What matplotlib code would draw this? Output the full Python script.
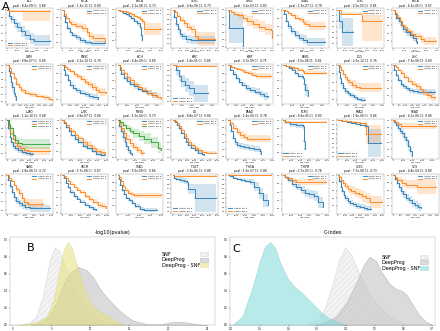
import numpy as np
import matplotlib
matplotlib.use("Agg")
import matplotlib.pyplot as plt

# ---- panel A : Kaplan-Meier curves, one per cancer ----
cancers = ["ACC", "BLCA", "BRCA", "CESC", "CHOL", "COAD", "DLBC", "ESCA",
           "GBM", "HNSC", "KICH", "KIRC", "KIRP", "LAML", "LGG", "LIHC",
           "LUAD", "LUSC", "MESO", "OV", "PAAD", "PCPG", "PRAD", "READ",
           "SARC", "SKCM", "STAD", "TGCT", "THCA", "THYM", "UCEC", "UCS"]
pvals = [8.4e-09, 1.3e-11, 2.1e-08, 4.6e-06, 3.2e-03, 1.7e-07, 2.5e-03, 6.1e-05,
         9.8e-07, 2.2e-10, 4.4e-09, 1.8e-05, 3.7e-09, 5.5e-06, 2.0e-12, 7.3e-08,
         1.1e-10, 3.6e-07, 5.2e-04, 8.8e-07, 2.4e-06, 6.6e-05, 1.9e-06, 4.1e-06,
         2.8e-06, 5.7e-08, 9.2e-09, 3.3e-06, 1.6e-07, 2.7e-05, 7.7e-08, 4.8e-04]
cindex = [0.89, 0.69, 0.73, 0.73, 0.83, 0.79, 0.85, 0.67,
          0.69, 0.70, 0.69, 0.86, 0.75, 0.82, 0.76, 0.69,
          0.68, 0.66, 0.73, 0.66, 0.78, 0.90, 0.84, 0.86,
          0.72, 0.67, 0.66, 0.88, 0.88, 0.78, 0.73, 0.80]
t_max = [4500, 5000, 8000, 6000, 3000, 4500, 6000, 4000,
         3500, 6000, 4500, 4500, 5500, 4500, 5000, 3500,
         6000, 5000, 2500, 6000, 2500, 5000, 5000, 4500,
         5000, 10000, 4000, 6000, 5000, 5000, 6000, 3000]

# cluster 0 (blue): times, survival, half width of the confidence band
blue_t = [
    [0, 200, 400, 700, 1000, 1400, 1800, 2300, 2700, 4300],
    [0, 150, 300, 500, 800, 1100, 1500, 2000, 2600, 3200, 4800],
    [0, 500, 1000, 1500, 2000, 2500, 3000, 3500, 4000, 4300, 4500],
    [0, 200, 400, 700, 1000, 1300, 1800, 2500, 5800],
    [0, 100, 1000, 1050],
    [0, 100, 300, 500, 800, 1200, 1600, 2000, 2500, 4300],
    [0, 200, 600, 1200, 2100],
    [0, 150, 300, 500, 700, 900, 1200, 1500, 1800, 2100, 2200],
    [0, 100, 200, 300, 400, 500, 600, 700],
    [0, 200, 400, 700, 1000, 1400, 1800, 2400, 3000, 3600, 4200, 4800],
    [0, 200, 400, 700, 1000, 1300, 1700, 2100, 2500, 3000, 3500, 4000],
    [0, 300, 600, 900, 1300, 1700, 2200, 3600],
    [0, 300, 600, 1000, 1400, 1800, 2300, 2800, 3400, 4000, 4500, 5000],
    [0, 300, 600, 900, 1200, 1500, 2000, 2100, 2300, 2600],
    [0, 100, 250, 400, 600, 800, 1100, 1400, 1800, 2200, 2600, 3000],
    [0, 100, 250, 400, 600, 800, 1000, 1300, 1600, 2000, 2500, 3000, 3300],
    [0, 100, 300, 500, 800, 1100, 1500, 2000, 2500, 3000, 3500],
    [0, 200, 400, 700, 1000, 1400, 1800, 2300, 2800, 3300, 3800, 4300, 4800],
    [0, 100, 200, 300, 400, 500, 600, 700, 800],
    [0, 300, 600, 900, 1200, 1500, 1800, 2100, 2500, 3000, 3500, 4000, 4200],
    [0, 100, 200, 300, 400, 500, 700, 900, 1200, 1500, 1800, 1900],
    [0, 300, 800, 1500, 2300, 2350, 2500],
    [0, 500, 1000, 1500, 2000, 2500, 3000, 3400, 4900],
    [0, 100, 300, 500, 700, 900, 1100, 1300, 1500, 1700, 1900],
    [0, 100, 300, 500, 700, 1000, 1300, 1600, 2000, 2500, 3000, 4800],
    [0, 300, 700, 1200, 1800, 2500, 3200, 4000, 5000, 6000, 7000, 7500],
    [0, 100, 250, 400, 600, 800, 1000, 1300, 1600, 2000, 2400, 3600],
    [0, 200, 500, 1000, 1500, 2000, 2100, 3000, 5900],
    [0, 300, 600, 1000, 1500, 2000, 2500, 3000, 3500, 4000, 4500],
    [0, 300, 600, 1000, 1500, 2000, 2500, 3000, 3500, 4000, 4500],
    [0, 200, 400, 600, 800, 1000, 1300, 1600, 2000, 2500, 3000, 3500, 4000, 4500],
    [0, 100, 250, 400, 550, 700, 900, 1100, 1300, 1500, 1700, 1900],
]
blue_s = [
    [1, .85, .75, .65, .55, .45, .35, .25, .2, .2],
    [1, .85, .7, .55, .45, .38, .32, .25, .2, .17, .17],
    [1, .96, .92, .88, .83, .78, .72, .65, .55, .35, .2],
    [1, .85, .7, .6, .5, .45, .4, .38, .38],
    [1, .5, .5, .02],
    [1, .9, .75, .62, .5, .42, .35, .3, .25, .25],
    [1, .8, .6, .6, .6],
    [1, .9, .8, .7, .6, .5, .42, .35, .28, .2, .15],
    [1, .85, .7, .55, .4, .25, .15, .05],
    [1, .9, .78, .65, .55, .48, .42, .36, .32, .28, .25, .22],
    [1, .88, .78, .68, .6, .52, .46, .4, .35, .3, .25, .22],
    [1, .9, .8, .7, .62, .55, .45, .45],
    [1, .9, .8, .7, .62, .55, .48, .42, .38, .33, .28, .25],
    [1, .97, .93, .88, .8, .72, .68, .5, .35, .2],
    [1, .85, .7, .58, .48, .4, .35, .3, .25, .22, .2, .2],
    [1, .88, .75, .62, .52, .45, .4, .35, .32, .3, .3, .3, .3],
    [1, .8, .6, .48, .38, .32, .27, .22, .2, .18, .18],
    [1, .92, .82, .72, .62, .52, .45, .35, .28, .22, .15, .12, .12],
    [1, .85, .7, .55, .4, .3, .2, .12, .05],
    [1, .95, .88, .78, .65, .52, .42, .33, .25, .18, .12, .08, .05],
    [1, .88, .7, .52, .4, .33, .3, .27, .25, .22, .15, .08],
    [1, .95, .9, .88, .85, .5, .3],
    [1, .98, .96, .95, .93, .9, .88, .5, .5],
    [1, .95, .88, .8, .72, .65, .55, .45, .3, .15, .02],
    [1, .9, .75, .62, .5, .42, .36, .32, .28, .25, .25, .25],
    [1, .92, .8, .68, .55, .45, .38, .3, .22, .15, .1, .08],
    [1, .9, .75, .62, .5, .42, .35, .28, .2, .12, .1, .1],
    [1, .95, .92, .9, .88, .85, .7, .5, .5],
    [1, .98, .95, .92, .9, .88, .85, .75, .6, .45, .35],
    [1, .95, .88, .8, .72, .65, .58, .55, .5, .35, .25],
    [1, .85, .7, .58, .48, .4, .32, .28, .24, .2, .18, .15, .13, .12],
    [1, .9, .8, .7, .6, .5, .42, .35, .28, .22, .18, .15],
]
blue_w = [
    [0, .08, .1, .12, .13, .14, .14, .14, .14, .14],
    [0, .03, .04, .05, .05, .05, .06, .06, .06, .06, .06],
    [0, .01, .02, .03, .03, .04, .05, .06, .08, .12, .15],
    [0, .04, .06, .07, .08, .08, .08, .08, .08],
    [0, .4, .4, 0],
    [0, .03, .05, .06, .07, .08, .09, .1, .1, .1],
    [0, .15, .25, .25, .25],
    [0, .04, .06, .07, .08, .09, .09, .09, .09, .09, .09],
    [0, .08, .1, .12, .12, .1, .08, .05],
    [0, .03, .04, .05, .05, .06, .06, .06, .06, .07, .07, .07],
    [0, .03, .04, .05, .05, .06, .06, .06, .07, .07, .08, .08],
    [0, .08, .1, .12, .14, .15, .16, .16],
    [0, .03, .04, .05, .06, .06, .07, .07, .08, .08, .09, .1],
    [0, .02, .03, .04, .05, .06, .07, .12, .15, .15],
    [0, .04, .05, .06, .06, .06, .06, .06, .05, .05, .05, .05],
    [0, .03, .05, .06, .06, .07, .07, .07, .07, .08, .08, .08, .08],
    [0, .05, .07, .08, .08, .08, .08, .08, .07, .07, .07],
    [0, .02, .03, .04, .04, .05, .05, .05, .05, .05, .05, .05, .05],
    [0, .06, .08, .1, .1, .1, .08, .06, .04],
    [0, .01, .02, .03, .03, .04, .04, .04, .04, .04, .04, .04, .04],
    [0, .04, .06, .07, .08, .08, .08, .08, .08, .08, .08, .08],
    [0, .04, .06, .08, .1, .2, .2],
    [0, .01, .01, .02, .02, .03, .04, .3, .3],
    [0, .04, .06, .08, .1, .11, .12, .13, .13, .1, .05],
    [0, .04, .06, .07, .08, .08, .08, .08, .08, .08, .08, .08],
    [0, .02, .03, .04, .05, .05, .05, .05, .05, .05, .05, .05],
    [0, .03, .04, .05, .05, .05, .05, .05, .05, .05, .05, .05],
    [0, .03, .05, .06, .06, .08, .12, .3, .3],
    [0, .01, .02, .03, .04, .05, .06, .1, .13, .15, .15],
    [0, .03, .05, .07, .08, .09, .1, .11, .12, .12, .12],
    [0, .04, .06, .07, .07, .07, .07, .07, .07, .07, .07, .07, .07, .07],
    [0, .04, .06, .08, .09, .1, .1, .1, .1, .1, .1, .1],
]

# cluster 1 (orange)
orange_t = [
    [0, 150, 1600, 4300],
    [0, 200, 400, 700, 1000, 1500, 2200, 2800, 3000, 3500, 4800],
    [0, 500, 1000, 1500, 2000, 2500, 3000, 3500, 4000, 4500, 4700, 7800],
    [0, 300, 600, 1000, 1500, 2000, 2500, 3000, 3500, 5800],
    [0, 200, 400, 700, 1000, 1300, 1700, 2100, 2500, 2900, 3000],
    [0, 200, 500, 800, 1200, 1600, 2000, 2300, 2700, 4300],
    [0, 400, 3300, 5900],
    [0, 200, 400, 600, 800, 1000, 1300, 1600, 2000, 2500, 2800, 3900],
    [0, 150, 300, 500, 700, 900, 1100, 1400, 1800, 2300, 2800, 3300, 3500],
    [0, 300, 600, 1000, 1500, 2000, 2500, 3000, 3500, 4000, 4500, 5000, 5900],
    [0, 200, 400, 700, 1000, 1300, 1700, 2100, 2500, 3000, 3500, 4000, 4400],
    [0, 300, 4400],
    [0, 400, 800, 1200, 1600, 2000, 2500, 3000, 3500, 5400],
    [0, 300, 700, 1100, 1500, 2000, 2100, 4400],
    [0, 200, 400, 600, 800, 1000, 1300, 1600, 2000, 2500, 4900],
    [0, 200, 400, 600, 900, 1200, 1500, 1800, 2100, 2400, 2700, 3000, 3300],
    [0, 200, 400, 700, 1000, 1300, 1700, 2200, 2800, 5800],
    [0, 200, 400, 700, 1000, 1400, 1800, 2300, 2800, 3300, 3800, 4300, 4800],
    [0, 100, 200, 350, 500, 700, 900, 1100, 1300, 1500],
    [0, 300, 600, 900, 1200, 1500, 1800, 2100, 2500, 3000, 3500, 4000, 4500, 5900],
    [0, 150, 300, 500, 700, 900, 1100, 2400],
    [0, 300, 4900],
    [0, 500, 1000, 1500, 2000, 2500, 3000, 3200, 4900],
    [0, 200, 500, 800, 4400],
    [0, 200, 400, 700, 1000, 1300, 1600, 1900, 2300, 4000],
    [0, 300, 700, 1200, 1800, 2500, 3200, 4000, 5000, 6000, 7000, 8000, 9000, 9800],
    [0, 150, 300, 500, 700, 900, 1200, 1500, 3900],
    [0, 200, 5900],
    [0, 300, 4900],
    [0, 200, 500, 1000, 1500, 4900],
    [0, 200, 400, 700, 1000, 1400, 1800, 2300, 2800, 3300, 3800, 4300, 5900],
    [0, 100, 300, 600, 900, 1600, 2900],
]
orange_s = [
    [1, .97, .97, .97],
    [1, .9, .8, .7, .65, .6, .55, .45, .35, .3, .2],
    [1, .98, .96, .94, .91, .88, .85, .8, .75, .7, .5, .5],
    [1, .95, .88, .8, .72, .65, .6, .45, .4, .4],
    [1, .95, .9, .85, .78, .7, .62, .55, .48, .45, .25],
    [1, .97, .93, .88, .82, .78, .72, .68, .62, .62],
    [1, .93, .8, .8],
    [1, .92, .82, .72, .62, .55, .45, .38, .32, .25, .2, .2],
    [1, .92, .8, .65, .5, .4, .32, .25, .2, .15, .12, .08, .05],
    [1, .96, .92, .86, .8, .74, .68, .62, .56, .5, .42, .38, .35],
    [1, .95, .88, .8, .7, .62, .52, .45, .38, .3, .25, .2, .15],
    [1, .99, .99],
    [1, .97, .94, .91, .88, .85, .82, .78, .76, .76],
    [1, .98, .95, .92, .88, .85, .8, .8],
    [1, .95, .88, .8, .72, .65, .6, .55, .5, .48, .48],
    [1, .95, .88, .8, .7, .6, .52, .45, .38, .3, .22, .18, .15],
    [1, .85, .7, .55, .45, .38, .32, .28, .25, .25],
    [1, .95, .88, .8, .72, .62, .55, .45, .38, .3, .22, .18, .15],
    [1, .92, .8, .65, .5, .38, .28, .2, .12, .1],
    [1, .97, .92, .85, .75, .63, .52, .42, .33, .25, .2, .15, .12, .12],
    [1, .92, .8, .68, .6, .55, .5, .5],
    [1, .97, .97],
    [1, .99, .98, .97, .96, .95, .94, .7, .7],
    [1, .95, .9, .85, .85],
    [1, .95, .88, .78, .68, .6, .48, .4, .35, .35],
    [1, .97, .92, .85, .78, .7, .62, .55, .45, .38, .3, .22, .18, .12],
    [1, .95, .85, .72, .62, .55, .5, .48, .48],
    [1, .99, .98],
    [1, 1, 1],
    [1, .97, .93, .88, .85, .85],
    [1, .95, .88, .8, .72, .65, .6, .55, .5, .45, .4, .3, .3],
    [1, .95, .88, .8, .75, .7, .7],
]
orange_w = [
    [0, .02, .25, .25],
    [0, .03, .05, .06, .07, .08, .09, .1, .1, .1, .1],
    [0, .01, .01, .02, .02, .03, .03, .04, .05, .06, .15, .15],
    [0, .03, .05, .06, .07, .08, .09, .12, .15, .15],
    [0, .05, .08, .1, .12, .13, .14, .15, .15, .15, .15],
    [0, .02, .03, .04, .05, .06, .07, .09, .1, .1],
    [0, .03, .35, .35],
    [0, .03, .05, .06, .07, .08, .08, .09, .09, .1, .1, .1],
    [0, .03, .05, .06, .07, .07, .07, .07, .06, .06, .06, .06, .06],
    [0, .02, .03, .04, .05, .06, .07, .07, .08, .09, .1, .1, .1],
    [0, .02, .03, .04, .05, .06, .06, .07, .07, .08, .08, .08, .08],
    [0, .01, .01],
    [0, .01, .02, .03, .04, .05, .05, .06, .07, .07],
    [0, .01, .02, .03, .04, .05, .06, .06],
    [0, .03, .05, .06, .07, .08, .09, .1, .1, .1, .1],
    [0, .02, .03, .04, .05, .06, .07, .08, .08, .09, .1, .1, .1],
    [0, .05, .07, .08, .09, .09, .1, .1, .1, .1],
    [0, .02, .03, .04, .05, .05, .06, .07, .08, .08, .08, .08, .08],
    [0, .05, .08, .1, .1, .1, .1, .1, .08, .08],
    [0, .01, .02, .03, .04, .04, .05, .05, .05, .05, .05, .05, .05, .05],
    [0, .04, .07, .09, .1, .1, .1, .1],
    [0, .02, .03],
    [0, .01, .01, .01, .01, .02, .02, .2, .2],
    [0, .03, .05, .08, .1],
    [0, .02, .04, .05, .06, .07, .08, .09, .1, .1],
    [0, .01, .02, .03, .04, .05, .05, .06, .06, .07, .07, .08, .08, .08],
    [0, .02, .04, .05, .06, .06, .07, .07, .07],
    [0, .01, .02],
    [0, .01, .01],
    [0, .02, .04, .06, .07, .07],
    [0, .03, .05, .07, .09, .1, .11, .12, .13, .14, .15, .15, .15],
    [0, .04, .08, .1, .12, .2, .2],
]

# cluster 2 (green), only in two cancers
green_idx = [16, 18]
green_t = [
    [0, 200, 400, 700, 1000, 1400, 2000, 5800],
    [0, 150, 300, 500, 700, 900, 1200, 1500, 1900, 2300, 2450],
]
green_s = [
    [1, .92, .8, .65, .52, .45, .42, .42],
    [1, .95, .88, .8, .72, .65, .58, .5, .4, .25, .2],
]
green_w = [
    [0, .04, .06, .08, .1, .11, .12, .12],
    [0, .04, .06, .08, .1, .12, .14, .15, .15, .15, .15],
]
legend_low = [0, 11, 21, 22, 27, 28]

# ---- panels B and C : densities ----
dens_labels = ["SNF", "DeepProg", "DeepProg - SNF"]
b_ticks = [0, 5, 10, 15, 20, 25]
b_snf_x = [1.03, 2.31, 3.16, 4.02, 4.87, 5.51, 6.15, 7.01, 7.86, 8.72, 9.57, 10.86, 12.14, 13.42, 14.7]
b_snf_y = [0, .02, .1, .35, .75, .9, .85, .65, .45, .3, .18, .08, .03, .01, 0]
b_dp_x = [2.31, 3.59, 4.87, 5.73, 6.58, 7.44, 8.5, 9.57, 10.43, 11.28, 12.14, 12.99, 13.85, 14.7, 15.56, 17.27, 18.98, 20.26, 21.11, 22.39, 23.68, 24.96]
b_dp_y = [0, .03, .12, .28, .48, .62, .68, .64, .55, .42, .32, .24, .16, .1, .05, .01, .01, .03, .04, .03, .01, 0]
b_diff_x = [0.17, 1.88, 3.16, 4.44, 5.3, 5.94, 6.58, 7.14, 7.65, 8.29, 9.15, 10.0, 10.86, 11.71, 12.57, 13.42, 14.28]
b_diff_y = [0, .01, .04, .1, .3, .6, .88, .97, .9, .7, .45, .27, .18, .14, .1, .04, 0]

c_ticks = [0.0, 0.1, 0.2, 0.3, 0.4, 0.5, 0.6, 0.7]
c_diff_x = [.004, .039, .075, .1, .118, .136, .154, .172, .196, .22, .245, .269, .293, .317, .341, .366, .402]
c_diff_y = [0, .1, .45, .75, .92, .97, .9, .72, .55, .45, .38, .3, .22, .14, .08, .04, 0]
c_snf_x = [.269, .305, .329, .353, .377, .399, .419, .437, .461, .485, .51, .534, .558, .582, .606, .63]
c_snf_y = [0, .05, .2, .45, .75, .9, .82, .68, .5, .35, .23, .15, .08, .04, .01, 0]
c_dp_x = [.293, .329, .365, .4, .437, .461, .482, .504, .528, .552, .576, .594, .612, .63, .654, .678, .702]
c_dp_y = [0, .03, .1, .25, .5, .7, .8, .75, .6, .48, .42, .4, .35, .25, .12, .04, 0]

blue, orange, green = "#1f77b4", "#ff7f0e", "#2ca02c"
plt.rcParams["hatch.linewidth"] = 0.3

fig = plt.figure(figsize=(4.4, 3.31), dpi=100)
W, H = 440.0, 331.0
row_top = [8, 63.5, 118.5, 173.5]


def km(ax, t, s, w, color, label):
    t = np.array(t, float)
    s = np.array(s, float)
    w = np.array(w, float)
    lo = np.clip(s - w, 0, 1)
    hi = np.clip(s + w, 0, 1)
    ax.fill_between(t, lo, hi, step="post", color=color, alpha=0.2, lw=0)
    ax.step(t, s, where="post", color=color, lw=0.6, label=label)
    ax.plot(t[1:], s[1:], ls="none", marker="|", ms=1.0, mew=0.3, color=color)


for i, name in enumerate(cancers):
    r, c = divmod(i, 8)
    ax = fig.add_axes([(6 + 55.1 * c) / W, 1 - (row_top[r] + 40) / H, 47 / W, 40 / H])
    km(ax, blue_t[i], blue_s[i], blue_w[i], blue, "cluster nb. 0")
    km(ax, orange_t[i], orange_s[i], orange_w[i], orange, "cluster nb. 1")
    if i in green_idx:
        k = green_idx.index(i)
        km(ax, green_t[k], green_s[k], green_w[k], green, "cluster nb. 2")
    ax.set_xlim(-t_max[i] * 0.03, t_max[i] * 1.03)
    ax.set_title(f"{name}\npval : {pvals[i]:.1e} CI:  {cindex[i]:.2f}", fontsize=2.1, pad=0.8, linespacing=1.15)
    ax.set_xlabel("Nb. days", fontsize=1.5, labelpad=0.3)
    ax.tick_params(labelsize=1.4, length=0.8, width=0.3, pad=0.4)
    for sp in ax.spines.values():
        sp.set_linewidth(0.3)
        sp.set_color("#999999")
    ax.legend(loc="lower left" if i in legend_low else "upper right", fontsize=1.5,
              frameon=True, framealpha=0.8, edgecolor="#cccccc", handlelength=2, borderpad=0.4)
    ax.get_legend().get_frame().set_linewidth(0.2)

fig.text(0.004, 0.995, "A", fontsize=8, va="top", ha="left")


def dens(ax, x, y, face, edge, alpha, hatch):
    return ax.fill_between(x, 0, y, facecolor=face, edgecolor=edge, alpha=alpha, hatch=hatch, lw=0.4)


for k in range(2):
    ax = fig.add_axes([(10 + 220 * k) / W, 6 / H, 205 / W, 88 / H])
    if k == 0:
        h = [dens(ax, b_snf_x, b_snf_y, "#f0f0f0", "#d0d0d0", 0.8, "//////"),
             dens(ax, b_dp_x, b_dp_y, "#c4c4c8", "#999999", 0.6, None),
             dens(ax, b_diff_x, b_diff_y, "#e6e07a", "#cfcf80", 0.55, None)]
        ax.set_xticks(b_ticks)
        ax.set_xlim(-0.3, 26)
        ax.set_title("-log10(pvalue)", fontsize=3.5, pad=2)
        ax.text(0.08, 0.87, "B", transform=ax.transAxes, fontsize=8, va="center")
        leg_y = 0.88
    else:
        h = [dens(ax, c_snf_x, c_snf_y, "#f0f0f0", "#d0d0d0", 0.8, "//////"),
             dens(ax, c_dp_x, c_dp_y, "#c4c4c8", "#999999", 0.6, None),
             dens(ax, c_diff_x, c_diff_y, "#7fd9d9", "#7fc0c0", 0.55, None)]
        ax.set_xticks(c_ticks)
        ax.set_xlim(-0.004, 0.71)
        ax.set_title("C-index", fontsize=3.5, pad=2)
        ax.text(0.01, 0.86, "C", transform=ax.transAxes, fontsize=8, va="center")
        leg_y = 0.85
    # labels left-aligned, boxes in a column further right
    leg_txt = ax.legend(h, dens_labels, loc="upper left", bbox_to_anchor=(0.72, leg_y), fontsize=3.5,
                        frameon=False, handlelength=0, handletextpad=0, labelspacing=0.1)
    for hd in leg_txt.legend_handles:
        hd.set_visible(False)
    ax.add_artist(leg_txt)
    ax.legend(h, ["", "", ""], loc="upper right", bbox_to_anchor=(0.985, leg_y), fontsize=3.5,
              frameon=False, handlelength=1.5, handleheight=0.9, labelspacing=0.1, handletextpad=0)
    ax.set_ylim(0, 1.03)
    ax.tick_params(labelsize=1.8, length=1, width=0.3, pad=0.5)
    for sp in ax.spines.values():
        sp.set_linewidth(0.3)
        sp.set_color("#aaaaaa")

fig.savefig("out.png", dpi=100)
